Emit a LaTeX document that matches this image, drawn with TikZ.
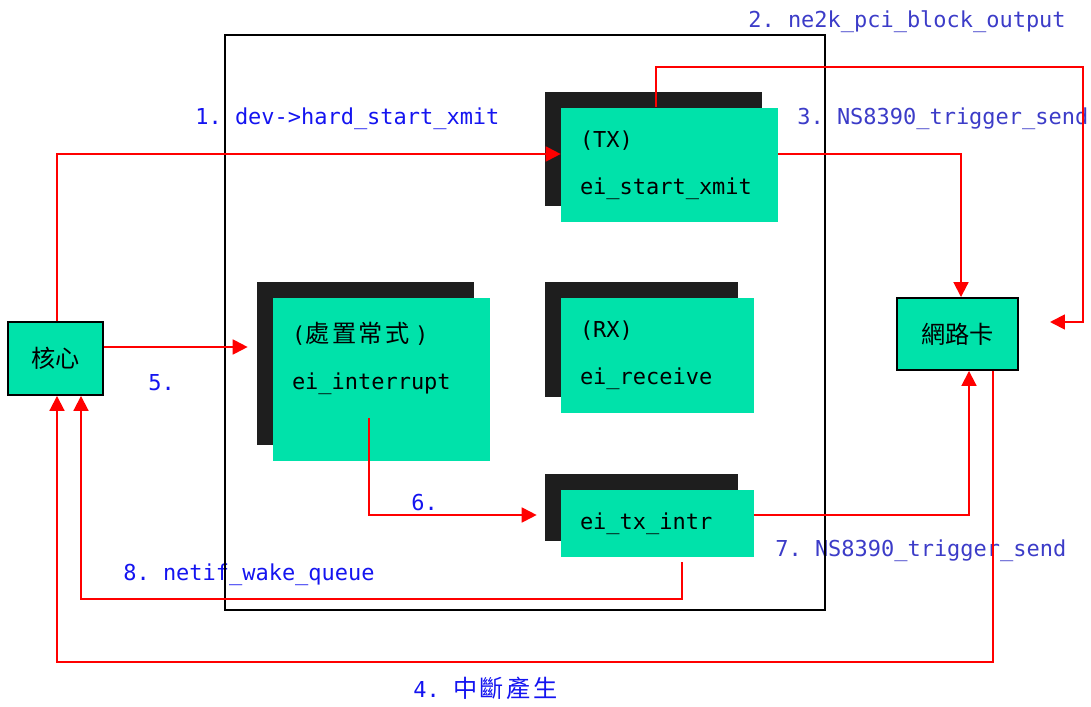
\documentclass[tikz,border=0pt]{standalone}
\usepackage{fontspec}
\setmonofont{DejaVu Sans Mono}
\newfontfamily\cjk[Scale=1.1]{Noto Sans CJK TC}
\usepackage{tikz}
\usetikzlibrary{arrows.meta, shadows}
\definecolor{cardGreen}{RGB}{0, 226, 170}
\definecolor{cardShadow}{RGB}{30, 30, 30}
\definecolor{stepBlue}{RGB}{20, 20, 240}
\definecolor{stepSlate}{RGB}{60, 60, 200}

\begin{document}
\begin{tikzpicture}[x=0.02cm, y=-0.02cm,
  func/.style={rectangle, fill=cardGreen, inner xsep=0.38cm, inner ysep=0pt,
               align=left, font=\ttfamily\fontsize{12.5pt}{26.6pt}\selectfont,
               drop shadow={shadow xshift=-0.32cm, shadow yshift=0.32cm,
                            opacity=1, fill=cardShadow}},
  unit/.style={rectangle, draw=black, line width=1.1pt, fill=cardGreen,
               inner sep=0pt, font=\cjk\fontsize{12.5pt}{15pt}\selectfont},
  arrow/.style={-{Triangle[length=8.5pt, width=8.5pt]}, red, line width=1.1pt},
  note/.style={anchor=west, inner sep=0pt, yshift=-0.05cm,
               font=\ttfamily\fontsize{12.5pt}{15pt}\selectfont},
]
  \useasboundingbox (0,0) rectangle (1091,706);

  \node[note, stepBlue] (n1) at (195,116) {1. dev->hard\_start\_xmit};
  \node[note, stepSlate] (n2) at (748,19) {2. ne2k\_pci\_block\_output};
  \node[note, stepSlate] (n3) at (797,116) {3. NS8390\_trigger\_send};
  \node[note, stepBlue] (n5) at (148,380) {5.};
  \node[note, stepBlue] (n6) at (411,500) {6.};
  \node[note, stepSlate] (n7) at (775,548) {7. NS8390\_trigger\_send};
  \node[note, stepBlue] (n8) at (123,572) {8. netif\_wake\_queue};
  \node[note, stepBlue] (n4) at (413,686) {4. {\cjk 中\hspace{1.5pt}斷\hspace{1.5pt}產\hspace{1.5pt}生}};

  \draw[line width=1.1pt] (225,35) rectangle (825,610);

  \node[func, text width=3.58cm, minimum height=2.3cm] (txbox) at (669.5,165) {(TX)\\ei\_start\_xmit};
  \node[func, text width=3.58cm, minimum height=3.26cm] (irqbox) at (381.5,379.5) {({\cjk 處\hspace{1.5pt}置\hspace{1.5pt}常\hspace{1.5pt}式}\hspace{3pt})\\ei\_interrupt\\\mbox{}};
  \node[func, text width=3.10cm, minimum height=2.3cm] (rxbox) at (657.5,355.5) {(RX)\\ei\_receive};
  \node[func, text width=3.10cm, minimum height=1.34cm] (txintr) at (657.5,523.5) {ei\_tx\_intr};

  \node[unit, minimum width=1.9cm, minimum height=1.46cm] (kernel) at (55.5,358.5) {核心};
  \node[unit, minimum width=2.42cm, minimum height=1.44cm] (nic) at (957.5,334) {網路卡};

  \coordinate (c2top) at (1083,67);
  \coordinate (c2end) at (1050,322);
  \coordinate (k5) at ([yshift=0.23cm]kernel.east);
  \coordinate (c8) at (81,599);
  \coordinate (c4) at (57,662);

  \draw[arrow] ([xshift=0.03cm]kernel.north) |- ([yshift=0.22cm]txbox.west);
  \draw[arrow] ([xshift=-0.27cm]txbox.north) |- (c2top) |- (c2end);
  \draw[arrow] ([yshift=0.22cm]txbox.east) -| ([xshift=0.07cm]nic.north);
  \draw[arrow, shorten >=0.5cm] (k5) -- (k5 -| irqbox.west);
  \draw[arrow, shorten >=0.48cm] ([xshift=-0.25cm, yshift=-0.77cm]irqbox.center) |- ([yshift=0.17cm]txintr.west);
  \draw[arrow] ([yshift=0.17cm]txintr.east) -| ([xshift=0.23cm]nic.south);
  \draw[arrow] ([xshift=0.49cm, yshift=-0.1cm]txintr.south) |- (c8) -- (c8 |- kernel.south);
  \draw[arrow] ([xshift=0.71cm]nic.south) |- (c4) -- (c4 |- kernel.south);
\end{tikzpicture}
\end{document}
